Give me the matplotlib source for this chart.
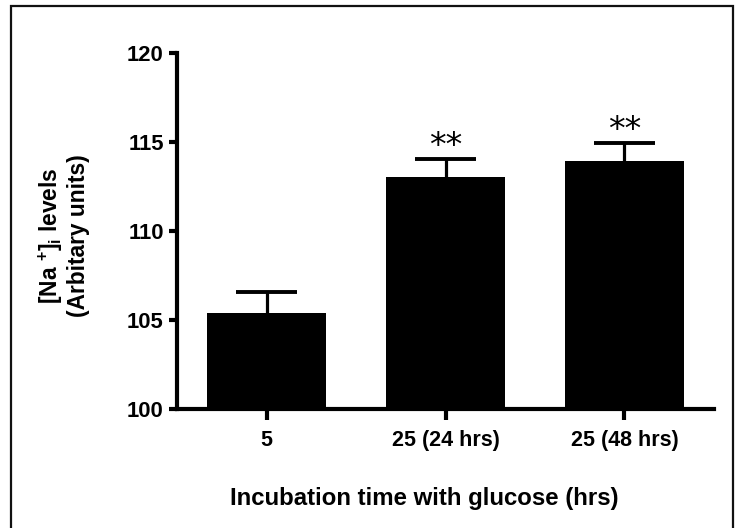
import matplotlib
matplotlib.use("Agg")
import matplotlib.pyplot as plt
from matplotlib.patches import Rectangle

plt.rcParams['font.family'] = ['Liberation Sans', 'DejaVu Sans']
plt.rcParams['font.weight'] = 'bold'
plt.rcParams['axes.labelweight'] = 'bold'
plt.rcParams['mathtext.default'] = 'regular'

# data
groups = ['5', '25 (24 hrs)', '25 (48 hrs)']
na_levels = [105.4, 113.05, 113.95]
sem = [1.15, 1.0, 1.0]
marks = ['', '**', '**']
y_ticks = [100, 105, 110, 115, 120]

fig = plt.figure(figsize=(7.36, 5.28), dpi=100)
ax = fig.add_axes([0.2405, 0.2254, 0.7296, 0.6742])

x = list(range(len(groups)))
tops = [v + e for v, e in zip(na_levels, sem)]
ax.bar(x, na_levels, width=0.67, color='black', edgecolor='none', zorder=2)
# upper error bars only
ax.vlines(x, na_levels, tops, color='black', lw=2.3, zorder=3)
ax.hlines(tops, [xi - 0.17 for xi in x], [xi + 0.17 for xi in x],
          color='black', lw=2.8, zorder=3)

for xi, t, m in zip(x, tops, marks):
    if m:
        ax.annotate(m, xy=(xi, t), xytext=(0, 9), textcoords='offset points',
                    ha='center', va='center', fontsize=24, fontweight='normal',
                    family='DejaVu Sans')

ax.set_xlim(-0.5, 2.5)
ax.set_ylim(100, 120)
ax.set_yticks(y_ticks)
ax.set_xticks(x)
ax.set_xticklabels(groups)

for s in ['top', 'right']:
    ax.spines[s].set_visible(False)
for s in ['left', 'bottom']:
    ax.spines[s].set_linewidth(3)

ax.tick_params(axis='y', length=6, width=3, pad=3.5, labelsize=15.8)
ax.tick_params(axis='x', length=8, width=3, pad=7, labelsize=15.5)

ax.set_xlabel('Incubation time with glucose (hrs)', fontsize=17.3,
              fontweight='bold')
ax.xaxis.set_label_coords(0.46, -0.219)
ax.set_ylabel('[Na $^{+}$]$_{i}$ levels\n(Arbitary units)', fontsize=16.4,
              fontweight='bold', linespacing=1.1)
ax.yaxis.set_label_coords(-0.162, 0.486)

# frame round the whole figure
fig.add_artist(Rectangle((11 / 736, -0.05), 722 / 736, 1.05 - 6 / 528,
                         transform=fig.transFigure, fill=False, lw=1.6,
                         edgecolor='#111111', clip_on=False))

plt.savefig('out.png', dpi=100)
